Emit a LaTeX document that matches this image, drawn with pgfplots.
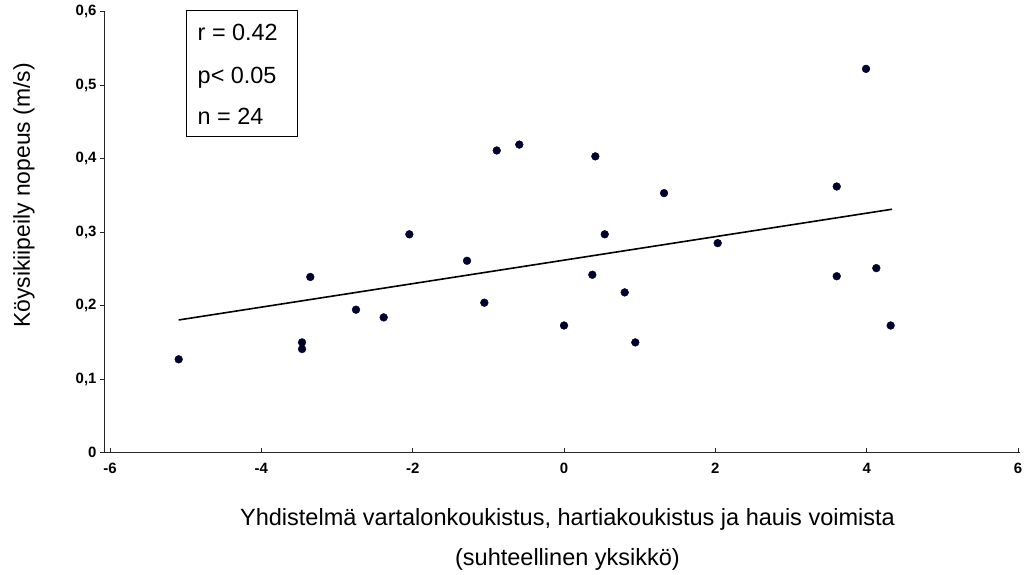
\documentclass[border=0pt]{standalone}
\usepackage{fontspec}
\setmainfont{Liberation Sans}
\usepackage{pgfplots}
\pgfplotsset{compat=1.18}
\usetikzlibrary{calc}
\definecolor{dotc}{RGB}{0,0,45}
\begin{document}
\begin{tikzpicture}
\begin{axis}[
  scale only axis, width=915bp, height=441.2bp,
  xmin=-6.066, xmax=6.026, ymin=0, ymax=0.6,
  axis x line*=bottom, axis y line*=left,
  xtick={-6,-4,-2,0,2,4,6},
  ytick={0,0.1,0.2,0.3,0.4,0.5,0.6},
  major tick length=5bp,
  x tick style={black!85, line width=0.8bp},
  y tick style={black!85, line width=0.8bp},
  xtick align=inside, ytick align=outside,
  axis line style={black!85, line width=1bp},
  ticklabel style={font=\fontsize{15}{15}\selectfont\bfseries},
  xticklabel style={yshift=-7bp},
  /pgf/number format/assume math mode=true,
  /pgf/number format/use comma,
  yticklabel style={/pgf/number format/fixed, /pgf/number format/precision=1, /pgf/number format/use comma},
  xlabel={Yhdistelmä vartalonkoukistus, hartiakoukistus ja hauis voimista\\(suhteellinen yksikkö)},
  xlabel style={at={(axis description cs:0.5,0)}, anchor=north, xshift=5bp, yshift=-56bp, align=center, font=\fontsize{23.6}{40}\selectfont, inner sep=0pt},
  ylabel={Köysikiipeily nopeus (m/s)},
  ylabel style={at={(axis description cs:-0.082,0.583)}, anchor=base, font=\fontsize{23}{24}\selectfont, inner sep=0pt},
  clip=false,
]
\addplot[only marks, mark=*, mark size=3.9bp, mark options={fill=dotc, draw=dotc}] coordinates {
(-5.092,0.127) (-3.462,0.150) (-3.462,0.141) (-3.353,0.239) (-2.749,0.1945)
(-2.383,0.184) (-2.044,0.297) (-1.282,0.261) (-1.053,0.204) (-0.889,0.411)
(-0.591,0.419) (0.0,0.173) (0.374,0.242) (0.414,0.403) (0.538,0.297)
(0.802,0.218) (0.942,0.150) (1.322,0.353) (2.031,0.285) (3.604,0.362)
(3.604,0.240) (3.991,0.522) (4.127,0.251) (4.317,0.173)
};
\addplot[black, line width=1.6bp] coordinates {(-5.092,0.1805) (4.335,0.3311)};
\draw[black, line width=0.8bp] (axis cs:-4.995,0.602) rectangle (axis cs:-3.528,0.4307);
\node[anchor=base west, inner sep=0pt, font=\fontsize{23.5}{23.5}\selectfont] at (axis cs:-4.843,0.5603) {r = 0.42};
\node[anchor=base west, inner sep=0pt, font=\fontsize{23.5}{23.5}\selectfont] at (axis cs:-4.843,0.5024) {p< 0.05};
\node[anchor=base west, inner sep=0pt, font=\fontsize{23.5}{23.5}\selectfont] at (axis cs:-4.843,0.4470) {n = 24};
\end{axis}
\pgfresetboundingbox
\path ($(current axis.south west)+(-105bp,-122.3bp)$) rectangle ++(1024bp,575bp);
\end{tikzpicture}
\end{document}
